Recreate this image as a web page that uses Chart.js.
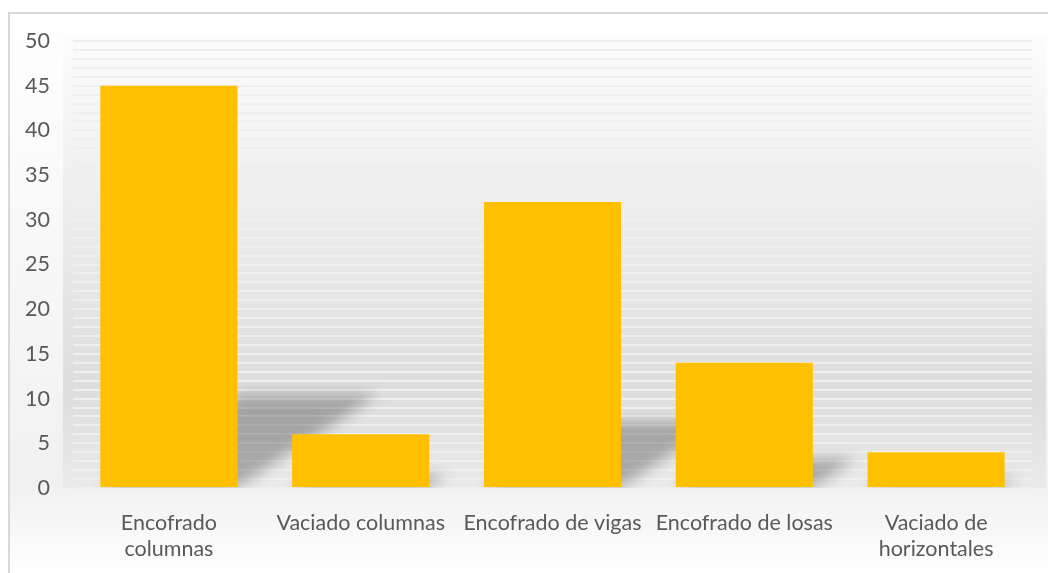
<!DOCTYPE html>
<html lang="es">
<head>
<meta charset="UTF-8">
<title>Actividades</title>
<script src="https://cdn.jsdelivr.net/npm/chart.js"></script>
<style>
html,body{margin:0;padding:0;background:#fff;overflow:hidden;}
canvas{display:block;}
</style>
</head>
<body>
<canvas id="chart" width="1048" height="573"></canvas>
<script>
// datos
const categories=[
    ["Encofrado","columnas"],
    "Vaciado columnas",
    "Encofrado de vigas",
    "Encofrado de losas",
    ["Vaciado de","horizontales"]
];
const values=[45,6,32,14,4];
const yTicks={min:0,max:50,major:5,minor:1};

const BAR_COLOR="#FFC000";
const TEXT_COLOR="#595959";
const FONT="Lato, 'Open Sans', sans-serif";

// fondo degradado + borde del area del grafico
const backdrop={
    id:"backdrop",
    beforeDraw(chart){
        const {ctx,width,height,chartArea:a}=chart;
        ctx.save();
        let g=ctx.createLinearGradient(0,0,0,height);
        g.addColorStop(0,"#ffffff");
        g.addColorStop(0.85,"#f1f1f1");
        g.addColorStop(1,"#ffffff");
        ctx.fillStyle=g;
        ctx.fillRect(0,0,width,height);

        g=ctx.createLinearGradient(0,a.top,0,a.bottom);
        g.addColorStop(0,"#fcfcfc");
        g.addColorStop(0.78,"#dddddd");
        g.addColorStop(1,"#eaeaea");
        ctx.fillStyle=g;
        ctx.fillRect(a.left-10,a.top-4,a.right-a.left+24,a.bottom-a.top+4);

        ctx.fillStyle="#ffffff";
        ctx.fillRect(0,0,width,12);
        ctx.fillRect(0,0,8,height);
        ctx.strokeStyle="#d9d9d9";
        ctx.lineWidth=2;
        ctx.beginPath();
        ctx.moveTo(9,height+5);
        ctx.lineTo(9,13);
        ctx.lineTo(width+5,13);
        ctx.stroke();
        ctx.restore();
    }
};

// sombra en perspectiva detras de cada barra
const barShadow={
    id:"barShadow",
    beforeDatasetsDraw(chart){
        const {ctx,chartArea:a}=chart;
        const meta=chart.getDatasetMeta(0);
        ctx.save();
        ctx.beginPath();
        ctx.rect(a.left,a.top,a.right-a.left,a.bottom-a.top);
        ctx.clip();
        ctx.filter="blur(7px)";
        ctx.fillStyle="rgba(0,0,0,0.27)";
        meta.data.forEach(bar=>{
            const p=bar.getProps(["x","y","base","width"],true);
            const h=p.base-p.y;
            const l=p.x-p.width/2, r=p.x+p.width/2;
            const t=h*0.23, s=h*0.35;
            ctx.beginPath();
            ctx.moveTo(l,p.base);
            ctx.lineTo(r,p.base);
            ctx.lineTo(r+s,p.base-t);
            ctx.lineTo(l+s,p.base-t);
            ctx.closePath();
            ctx.fill();
        });
        ctx.restore();
    }
};

new Chart(document.getElementById("chart"),{
    type:"bar",
    data:{
        labels:categories,
        datasets:[{
            data:values,
            backgroundColor:BAR_COLOR,
            barPercentage:0.715,
            categoryPercentage:1
        }]
    },
    options:{
        responsive:false,
        animation:false,
        devicePixelRatio:1,
        layout:{padding:{left:10,right:16,top:41,bottom:0}},
        plugins:{legend:{display:false},tooltip:{enabled:false}},
        scales:{
            x:{
                grid:{display:false},
                border:{display:false},
                ticks:{
                    color:TEXT_COLOR,
                    font:{family:FONT,size:21.5,lineHeight:1.22},
                    padding:14,
                    maxRotation:0,
                    autoSkip:false
                },
                afterFit(s){s.height=85;}
            },
            y:{
                min:yTicks.min,
                max:yTicks.max,
                border:{display:false},
                grid:{color:"#efefef",lineWidth:2,drawTicks:false},
                ticks:{
                    stepSize:yTicks.minor,
                    autoSkip:false,
                    color:TEXT_COLOR,
                    font:{family:FONT,size:21.5},
                    padding:23,
                    callback:v=>v%yTicks.major===0?v:""
                },
                afterFit(s){s.width=63;}
            }
        }
    },
    plugins:[backdrop,barShadow]
});
</script>
</body>
</html>
